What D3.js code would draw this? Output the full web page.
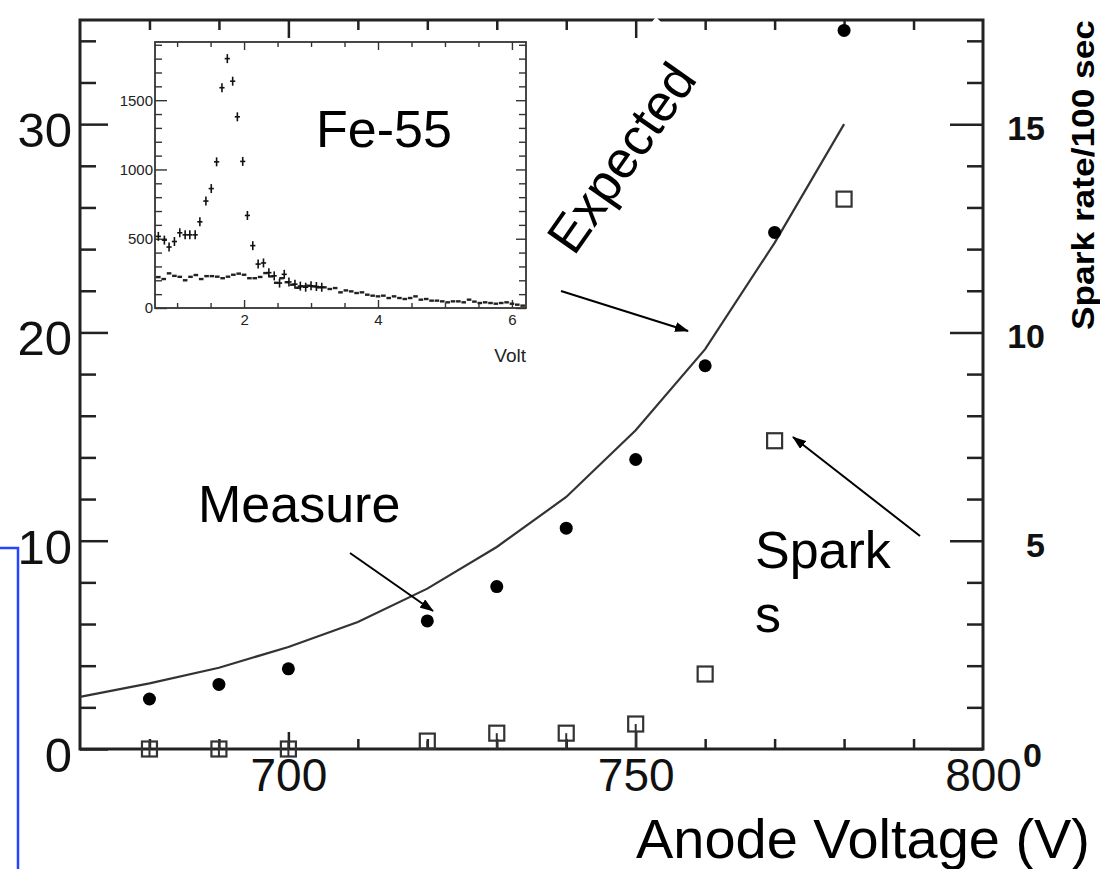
<!DOCTYPE html>
<html>
<head>
<meta charset="utf-8">
<script src="https://cdn.jsdelivr.net/npm/d3@7"></script>
<style>
  html, body { margin: 0; padding: 0; background: #ffffff; }
  svg { display: block; }
  text { font-family: "Liberation Sans", Arial, Helvetica, sans-serif; }
</style>
</head>
<body>
<svg id="chart" width="1100" height="869"></svg>
<script>
// ---------------- data ----------------
const voltages      = [680, 690, 700, 720, 730, 740, 750, 760, 770, 780];
const measuredGain  = [2.4, 3.1, 3.85, 6.15, 7.8, 10.6, 13.9, 18.4, 24.8, 34.5];
const sparkRate     = [0, 0, 0, 0.19, 0.38, 0.38, 0.6, 1.8, 7.4, 13.2];
const sparkErrLow   = [0.17, 0.17, 0.17, 0.19, 0.38, 0.38, 0.6, 0, 0, 0];
const sparkErrHigh  = [0.17, 0.17, 0.17, 0, 0, 0, 0, 0, 0, 0];
const expectedV     = [670, 680, 690, 700, 710, 720, 730, 740, 750, 760, 770, 780];
const expectedGain  = [2.5, 3.15, 3.9, 4.9, 6.1, 7.7, 9.7, 12.1, 15.3, 19.2, 24.3, 30.0];

const xMajorTicks   = [700, 750, 800];
const xMinorTicks   = [680, 690, 710, 720, 730, 740, 760, 770, 780, 790];
const yLeftMajor    = [0, 10, 20, 30];
const yLeftMinor    = [2, 4, 6, 8, 12, 14, 16, 18, 22, 24, 26, 28, 32, 34];
const yRightMajor   = [0, 5, 10, 15];
const yRightMinor   = [1, 2, 3, 4, 6, 7, 8, 9, 11, 12, 13, 14, 16, 17];

// inset (Fe-55 spectrum)
const peakV      = [0.72, 0.81, 0.88, 0.96, 1.04, 1.12, 1.19, 1.27, 1.34, 1.43, 1.51, 1.59, 1.67, 1.75, 1.83, 1.90, 1.98, 2.05, 2.13, 2.21, 2.29, 2.37, 2.45, 2.53, 2.60, 2.67, 2.76, 2.84, 2.92, 3.00, 3.08, 3.16];
const peakCounts = [517, 490, 440, 480, 543, 528, 528, 528, 622, 772, 862, 1055, 1590, 1800, 1637, 1380, 1058, 668, 450, 317, 325, 255, 232, 180, 243, 188, 172, 158, 150, 160, 155, 150];
const bgV        = [0.72, 0.80, 0.88, 0.96, 1.04, 1.12, 1.20, 1.28, 1.36, 1.44, 1.52, 1.60, 1.68, 1.76, 1.84, 1.92, 2.00, 2.08, 2.16, 2.24, 2.32, 2.40, 2.48, 2.56, 2.64, 2.72, 2.80, 2.88, 2.96, 3.04, 3.12, 3.20, 3.28, 3.36, 3.44, 3.52, 3.60, 3.68, 3.76, 3.84, 3.92, 4.00, 4.08, 4.16, 4.24, 4.32, 4.40, 4.48, 4.56, 4.64, 4.72, 4.80, 4.88, 4.96, 5.04, 5.12, 5.20, 5.28, 5.36, 5.44, 5.52, 5.60, 5.68, 5.76, 5.84, 5.92, 6.00, 6.08, 6.16];
const bgCounts   = [223, 209, 250, 232, 225, 200, 225, 238, 209, 230, 230, 226, 215, 226, 240, 248, 240, 215, 215, 224, 252, 228, 182, 215, 186, 168, 146, 156, 161, 156, 149, 149, 137, 144, 113, 127, 120, 108, 113, 96, 89, 84, 89, 72, 84, 72, 65, 72, 84, 60, 65, 53, 53, 48, 41, 48, 48, 41, 60, 46, 36, 41, 36, 31, 36, 41, 31, 24, 17];
const insetXMajor = [2, 4, 6];
const insetXMinor = [1, 1.5, 2.5, 3, 3.5, 4.5, 5, 5.5];
const insetYMajor = [0, 500, 1000, 1500];
const insetYMinor = [100, 200, 300, 400, 600, 700, 800, 900, 1100, 1200, 1300, 1400, 1600, 1700, 1800, 1900];

// ---------------- layout ----------------
const svg = d3.select("#chart");
const M = { left: 80, right: 983, top: 20, bottom: 749 };
const x  = d3.scaleLinear().domain([670, 800]).range([M.left, M.right]);
const yL = d3.scaleLinear().domain([0, 35]).range([M.bottom, M.top]);
const yR = d3.scaleLinear().domain([0, 17.5]).range([M.bottom, M.top]);
const FONT = '"Liberation Sans", Arial, Helvetica, sans-serif';
const AX = "#222";

svg.append("defs").append("marker")
  .attr("id", "arrow").attr("markerUnits", "userSpaceOnUse")
  .attr("markerWidth", 14).attr("markerHeight", 10)
  .attr("refX", 13).attr("refY", 5).attr("orient", "auto")
  .append("path").attr("d", "M0,0 L14,5 L0,10 Z").attr("fill", "#000");

// blue bracket on the far left
svg.append("path").attr("d", "M0,548 H18 V869")
  .attr("fill", "none").attr("stroke", "#2444ff").attr("stroke-width", 2.5);

function styleAxis(g, fontSize, weight) {
  g.select(".domain").remove();
  g.selectAll(".tick line").attr("stroke", AX).attr("stroke-width", 2.5);
  g.selectAll(".tick text").attr("fill", "#111").style("font-family", FONT)
    .style("font-size", fontSize + "px").style("font-weight", weight || "normal");
}

// left axis
const gL = svg.append("g").attr("transform", `translate(${M.left},0)`)
  .call(d3.axisLeft(yL).tickValues(yLeftMajor).tickSize(-28).tickPadding(8).tickFormat(d3.format("d")));
styleAxis(gL, 49);
gL.selectAll(".tick text").attr("dy", "0.46em");
const gLm = svg.append("g").attr("transform", `translate(${M.left},0)`)
  .call(d3.axisLeft(yL).tickValues(yLeftMinor).tickSize(-16).tickFormat(""));
styleAxis(gLm, 10);

// right axis
const gR = svg.append("g").attr("transform", `translate(${M.right},0)`)
  .call(d3.axisRight(yR).tickValues(yRightMajor).tickSize(-33).tickPadding(0).tickFormat(d3.format("d")));
styleAxis(gR, 34, "bold");
gR.selectAll(".tick text").attr("x", 62).attr("text-anchor", "end").attr("dy", "0.45em");
gR.selectAll(".tick").filter(d => d === 0).select("text").attr("x", 59).attr("dy", "0.5em");
const gRm = svg.append("g").attr("transform", `translate(${M.right},0)`)
  .call(d3.axisRight(yR).tickValues(yRightMinor).tickSize(-16).tickFormat(""));
styleAxis(gRm, 10);

// bottom axis
const gB = svg.append("g").attr("transform", `translate(0,${M.bottom})`)
  .call(d3.axisBottom(x).tickValues(xMajorTicks).tickSize(-17).tickPadding(9).tickFormat(d3.format("d")));
styleAxis(gB, 46);
gB.selectAll(".tick").filter(d => d === 800).select("line").remove();
const gBm = svg.append("g").attr("transform", `translate(0,${M.bottom})`)
  .call(d3.axisBottom(x).tickValues(xMinorTicks).tickSize(-10).tickFormat(""));
styleAxis(gBm, 10);

// top axis
const gT = svg.append("g").attr("transform", `translate(0,${M.top})`)
  .call(d3.axisTop(x).tickValues(xMajorTicks.filter(v => v < 800)).tickSize(-18).tickFormat(""));
styleAxis(gT, 10);
const gTm = svg.append("g").attr("transform", `translate(0,${M.top})`)
  .call(d3.axisTop(x).tickValues(xMinorTicks).tickSize(-10).tickFormat(""));
styleAxis(gTm, 10);

// frame
svg.append("rect").attr("x", M.left).attr("y", M.top)
  .attr("width", M.right - M.left).attr("height", M.bottom - M.top)
  .attr("fill", "none").attr("stroke", AX).attr("stroke-width", 3);

svg.append("path").attr("d", "M651,23 L656,17 L662,23 Z").attr("fill", "#fff");

// expected curve
svg.append("path")
  .datum(expectedV.map((v, i) => [v, expectedGain[i]]))
  .attr("d", d3.line().x(d => x(d[0])).y(d => yL(d[1])))
  .attr("fill", "none").attr("stroke", "#333").attr("stroke-width", 2.2);

// spark error bars
svg.append("g").selectAll("line").data(voltages).join("line")
  .attr("x1", d => x(d)).attr("x2", d => x(d))
  .attr("y1", (d, i) => yR(sparkRate[i] - sparkErrLow[i]))
  .attr("y2", (d, i) => yR(sparkRate[i] + sparkErrHigh[i]))
  .attr("stroke", "#333").attr("stroke-width", 2);

// spark squares
const SQ = 15;
svg.append("g").selectAll("rect").data(voltages).join("rect")
  .attr("x", d => x(d) - SQ / 2)
  .attr("y", (d, i) => yR(sparkRate[i]) - SQ / 2)
  .attr("width", SQ).attr("height", SQ)
  .attr("fill", "none").attr("stroke", "#333").attr("stroke-width", 2.2);

// measured circles
svg.append("g").selectAll("circle").data(voltages).join("circle")
  .attr("cx", d => x(d)).attr("cy", (d, i) => yL(measuredGain[i]))
  .attr("r", 6.5).attr("fill", "#000");

// ---------------- inset ----------------
const I = { left: 155, right: 526, top: 42, bottom: 308 };
const ix = d3.scaleLinear().domain([0.67, 6.21]).range([I.left, I.right]);
const iy = d3.scaleLinear().domain([0, 1920]).range([I.bottom, I.top]);
const ins = svg.append("g");
ins.append("rect").attr("x", I.left).attr("y", I.top)
  .attr("width", I.right - I.left).attr("height", I.bottom - I.top).attr("fill", "#fff");

function styleInset(g, fs) {
  g.select(".domain").remove();
  g.selectAll(".tick line").attr("stroke", "#333").attr("stroke-width", 1.4);
  g.selectAll(".tick text").attr("fill", "#222").style("font-family", FONT).style("font-size", fs + "px");
}
const iL = ins.append("g").attr("transform", `translate(${I.left},0)`)
  .call(d3.axisLeft(iy).tickValues(insetYMajor).tickSize(-12).tickPadding(2).tickFormat(d3.format("d")));
styleInset(iL, 15);
styleInset(ins.append("g").attr("transform", `translate(${I.left},0)`)
  .call(d3.axisLeft(iy).tickValues(insetYMinor).tickSize(-7).tickFormat("")), 10);
styleInset(ins.append("g").attr("transform", `translate(${I.right},0)`)
  .call(d3.axisRight(iy).tickValues(insetYMajor).tickSize(-10).tickFormat("")), 10);
styleInset(ins.append("g").attr("transform", `translate(${I.right},0)`)
  .call(d3.axisRight(iy).tickValues(insetYMinor).tickSize(-7).tickFormat("")), 10);
const iB = ins.append("g").attr("transform", `translate(0,${I.bottom})`)
  .call(d3.axisBottom(ix).tickValues(insetXMajor).tickSize(-8).tickPadding(6).tickFormat(d3.format("d")));
styleInset(iB, 15);
styleInset(ins.append("g").attr("transform", `translate(0,${I.bottom})`)
  .call(d3.axisBottom(ix).tickValues(insetXMinor).tickSize(-5).tickFormat("")), 10);
styleInset(ins.append("g").attr("transform", `translate(0,${I.top})`)
  .call(d3.axisTop(ix).tickValues(insetXMajor).tickSize(-8).tickFormat("")), 10);
styleInset(ins.append("g").attr("transform", `translate(0,${I.top})`)
  .call(d3.axisTop(ix).tickValues(insetXMinor).tickSize(-5).tickFormat("")), 10);
ins.append("rect").attr("x", I.left).attr("y", I.top)
  .attr("width", I.right - I.left).attr("height", I.bottom - I.top)
  .attr("fill", "none").attr("stroke", "#333").attr("stroke-width", 1.8);
ins.append("text").attr("x", I.right).attr("y", 362).attr("text-anchor", "end")
  .style("font-size", "19px").attr("fill", "#222").text("Volt");

// background histogram (dashes)
const bgG = ins.append("g").attr("stroke", "#222");
bgG.selectAll("line.h").data(bgV).join("line").attr("class", "h")
  .attr("x1", d => ix(d) - 2.3).attr("x2", d => ix(d) + 2.3)
  .attr("y1", (d, i) => iy(bgCounts[i])).attr("y2", (d, i) => iy(bgCounts[i]))
  .attr("stroke-width", 2.4);
// peak histogram (crosses)
const pkG = ins.append("g").attr("stroke", "#111").attr("stroke-width", 1.6);
pkG.selectAll("line.h").data(peakV).join("line").attr("class", "h")
  .attr("x1", d => ix(d) - 2.6).attr("x2", d => ix(d) + 2.6)
  .attr("y1", (d, i) => iy(peakCounts[i])).attr("y2", (d, i) => iy(peakCounts[i]));
pkG.selectAll("line.v").data(peakV).join("line").attr("class", "v")
  .attr("x1", d => ix(d)).attr("x2", d => ix(d))
  .attr("y1", (d, i) => iy(peakCounts[i]) - 4.5).attr("y2", (d, i) => iy(peakCounts[i]) + 4.5);

// ---------------- annotations ----------------
function label(txt, xx, yy, size, opts) {
  const t = svg.append("text").attr("x", xx).attr("y", yy).text(txt)
    .style("font-size", size + "px").attr("fill", "#000");
  if (opts && opts.anchor) t.attr("text-anchor", opts.anchor);
  if (opts && opts.bold) t.style("font-weight", "bold");
  if (opts && opts.rotate !== undefined) t.attr("transform", `rotate(${opts.rotate},${xx},${yy})`);
  if (opts && opts.len) t.attr("textLength", opts.len).attr("lengthAdjust", "spacingAndGlyphs");
  return t;
}
label("Fe-55", 316, 147, 52);
label("Measure", 198, 522, 52);
label("Spark", 755, 568, 52);
label("s", 755, 632, 52);
label("Expected", 574, 257, 52, { rotate: -55 });
label("Anode Voltage (V)", 1090, 858, 55, { anchor: "end", len: 454 });
label("Spark rate/100 sec", 1094, 175, 31, { anchor: "middle", bold: true, rotate: -90, len: 310 });

function arrow(x1, y1, x2, y2) {
  svg.append("line").attr("x1", x1).attr("y1", y1).attr("x2", x2).attr("y2", y2)
    .attr("stroke", "#000").attr("stroke-width", 2).attr("marker-end", "url(#arrow)");
}
arrow(561, 291, 688, 331);
arrow(350, 553, 433, 611);
arrow(920, 536, 793, 437);
</script>
</body>
</html>
